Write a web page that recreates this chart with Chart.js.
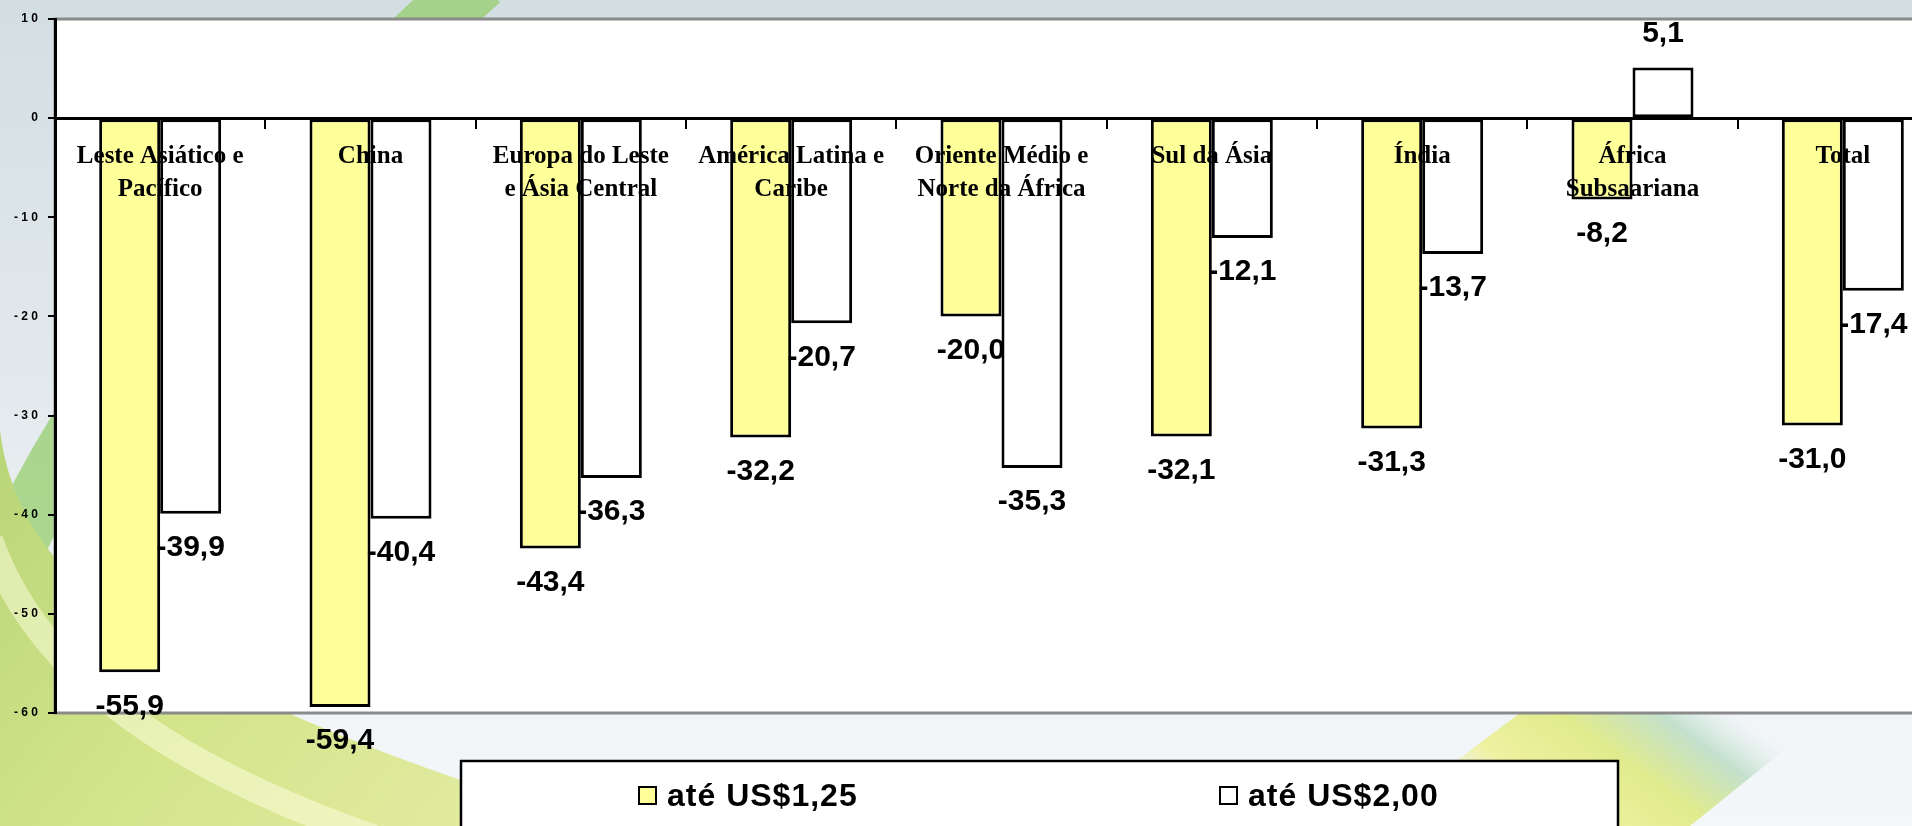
<!DOCTYPE html>
<html lang="pt">
<head>
<meta charset="utf-8">
<title>Variação da pobreza por região</title>
<script src="https://cdn.jsdelivr.net/npm/chart.js"></script>
<style>
  html, body { margin: 0; padding: 0; overflow: hidden; width: 1912px; height: 826px; background: #e6ecef; }
  #chart { position: absolute; left: 0; top: 0; width: 1960px; height: 826px; }
</style>
</head>
<body>
<canvas id="chart" width="1960" height="826"></canvas>
<script>
// categorias (regiões)
const categories = [
  ['Leste Asiático e', 'Pacífico'],
  'China',
  ['Europa do Leste', 'e Ásia Central'],
  ['América Latina e', 'Caribe'],
  ['Oriente Médio e', 'Norte da África'],
  'Sul da Ásia',
  'Índia',
  ['África', 'Subsaariana'],
  'Total'
];
const seriesNames = ['até US$1,25', 'até US$2,00'];
const valuesUS125 = [-55.9, -59.4, -43.4, -32.2, -20.0, -32.1, -31.3, -8.2, -31.0];
const valuesUS200 = [-39.9, -40.4, -36.3, -20.7, -35.3, -12.1, -13.7, 5.1, -17.4];
const yMin = -60;
const yMax = 10;
const yStep = 10;

const fmt = v => v.toFixed(1).replace('.', ',');

// fundo do slide + area do grafico branca
const slideBackground = {
  id: 'slideBackground',
  beforeDraw(chart) {
    const ctx = chart.ctx;
    const W = chart.width, H = chart.height;
    ctx.save();
    let g = ctx.createLinearGradient(0, 0, 0, H);
    g.addColorStop(0, '#d3dee3');
    g.addColorStop(0.45, '#e2e9ec');
    g.addColorStop(0.85, '#f2f5f7');
    g.addColorStop(1, '#f4f7f9');
    ctx.fillStyle = g;
    ctx.fillRect(0, 0, W, H);

    // faixa verde em cima / esquerda
    ctx.strokeStyle = 'rgba(150, 205, 110, 0.75)';
    ctx.lineWidth = 60;
    ctx.beginPath();
    ctx.moveTo(480, -20);
    ctx.quadraticCurveTo(120, 300, 10, 560);
    ctx.stroke();

    // mancha verde-amarela no canto inferior esquerdo
    g = ctx.createLinearGradient(0, 420, 500, 826);
    g.addColorStop(0, '#b7d577');
    g.addColorStop(0.5, '#d3e48a');
    g.addColorStop(1, '#e3eba2');
    ctx.fillStyle = g;
    ctx.beginPath();
    ctx.moveTo(0, 430);
    ctx.bezierCurveTo(20, 600, 200, 700, 600, 826);
    ctx.lineTo(0, 826);
    ctx.closePath();
    ctx.fill();

    ctx.strokeStyle = 'rgba(255, 255, 225, 0.5)';
    ctx.lineWidth = 26;
    ctx.beginPath();
    ctx.moveTo(-10, 540);
    ctx.bezierCurveTo(40, 680, 180, 770, 380, 840);
    ctx.stroke();

    // faixa diagonal a direita
    g = ctx.createLinearGradient(1500, 830, 1640, 640);
    g.addColorStop(0, 'rgba(240, 242, 170, 0.0)');
    g.addColorStop(0.25, 'rgba(238, 240, 150, 0.9)');
    g.addColorStop(0.55, 'rgba(222, 234, 130, 0.9)');
    g.addColorStop(0.8, 'rgba(190, 222, 200, 0.9)');
    g.addColorStop(1, 'rgba(220, 235, 235, 0.0)');
    ctx.fillStyle = g;
    ctx.beginPath();
    ctx.moveTo(1520, 713);
    ctx.lineTo(1830, 713);
    ctx.lineTo(1690, 826);
    ctx.lineTo(1370, 826);
    ctx.closePath();
    ctx.fill();

    const a = chart.chartArea;
    ctx.fillStyle = '#ffffff';
    ctx.fillRect(a.left, a.top, a.right - a.left, a.bottom - a.top);
    ctx.strokeStyle = '#8a8a8a';
    ctx.lineWidth = 3;
    ctx.strokeRect(a.left, a.top, a.right - a.left, a.bottom - a.top);
    ctx.restore();
  }
};

// rotulos de valor
const valueLabels = {
  id: 'valueLabels',
  afterDatasetsDraw(chart) {
    const ctx = chart.ctx;
    ctx.save();
    ctx.font = 'bold 30px "Liberation Sans", Arial, sans-serif';
    ctx.fillStyle = '#000';
    ctx.textAlign = 'center';
    ctx.textBaseline = 'middle';
    chart.data.datasets.forEach((ds, i) => {
      chart.getDatasetMeta(i).data.forEach((bar, j) => {
        const v = ds.data[j];
        const y = v < 0 ? bar.y + 34 : bar.y - 34;
        ctx.fillText(fmt(v), bar.x, y);
      });
    });
    ctx.restore();
  }
};

// legenda com caixa
const boxLegend = {
  id: 'boxLegend',
  afterDraw(chart) {
    const ctx = chart.ctx;
    ctx.save();
    ctx.fillStyle = '#ffffff';
    ctx.fillRect(461, 761, 1157, 90);
    ctx.strokeStyle = '#000';
    ctx.lineWidth = 2.5;
    ctx.strokeRect(461, 761, 1157, 90);
    const itemX = [639, 1220];
    ctx.font = 'bold 32px "Liberation Sans", Arial, sans-serif';
    ctx.letterSpacing = '1px';
    ctx.textBaseline = 'middle';
    ctx.textAlign = 'left';
    chart.data.datasets.forEach((ds, i) => {
      ctx.fillStyle = ds.backgroundColor;
      ctx.fillRect(itemX[i], 787, 17, 17);
      ctx.lineWidth = 2;
      ctx.strokeStyle = '#000';
      ctx.strokeRect(itemX[i], 787, 17, 17);
      ctx.fillStyle = '#000';
      ctx.fillText(ds.label, itemX[i] + 28, 797);
    });
    ctx.restore();
  }
};

const ctx = document.getElementById('chart').getContext('2d');
const chart = new Chart(ctx, {
  type: 'bar',
  data: {
    labels: categories,
    datasets: [{
      label: seriesNames[0],
      data: valuesUS125,
      backgroundColor: '#ffff99',
      borderColor: '#000000',
      borderWidth: 3,
      borderSkipped: false
    }, {
      label: seriesNames[1],
      data: valuesUS200,
      backgroundColor: '#ffffff',
      borderColor: '#000000',
      borderWidth: 3,
      borderSkipped: false
    }]
  },
  options: {
    responsive: false,
    devicePixelRatio: 1,
    animation: false,
    categoryPercentage: 0.58,
    barPercentage: 1,
    layout: { padding: { left: 0, top: 19, right: 12, bottom: 113 } },
    plugins: {
      legend: { display: false },
      tooltip: { enabled: false }
    },
    scales: {
      x: {
        position: { y: 0 },
        grid: { display: true, drawOnChartArea: false, tickLength: 9, color: '#000', lineWidth: 2, offset: true, z: 1 },
        border: { display: true, color: '#000', width: 3, z: 1 },
        ticks: {
          z: 1,
          autoSkip: false,
          maxRotation: 0,
          color: '#000',
          padding: 13,
          font: { family: '"Liberation Serif", "Times New Roman", serif', size: 25, weight: 'bold', lineHeight: 1.32 }
        }
      },
      y: {
        min: yMin,
        max: yMax,
        afterFit(scale) { scale.width = 55; },
        grid: { display: true, drawOnChartArea: false, tickLength: 7, color: '#000', lineWidth: 2 },
        border: { display: true, color: '#000', width: 3 },
        ticks: {
          stepSize: yStep,
          color: '#000',
          padding: 10,
          font: { family: '"Liberation Sans", Arial, sans-serif', size: 12, weight: 'bold' },
          callback: v => String(v).split('').join(' ')
        }
      }
    }
  },
  plugins: [slideBackground, valueLabels, boxLegend]
});
</script>
</body>
</html>
